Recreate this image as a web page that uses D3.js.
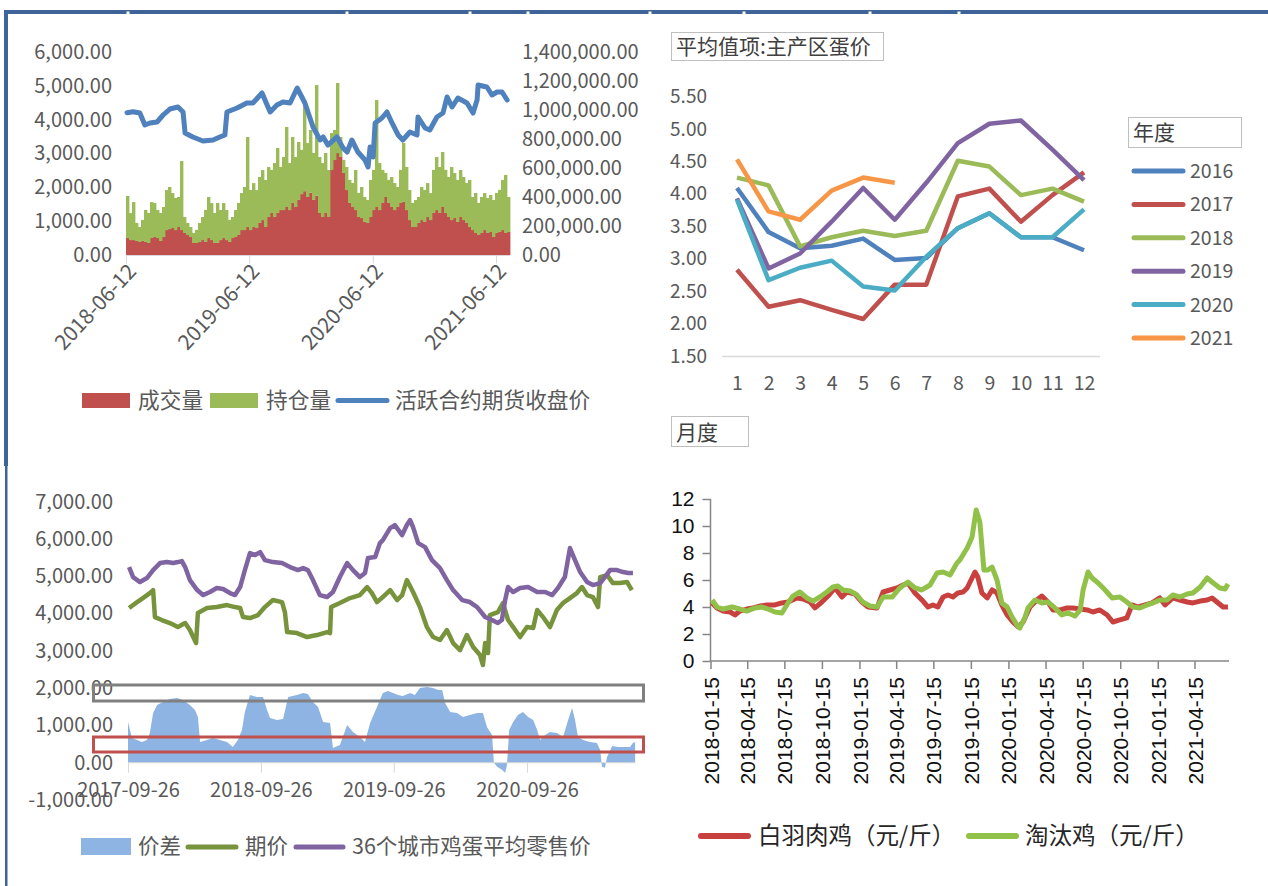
<!DOCTYPE html>
<html><head><meta charset="utf-8">
<script src="https://cdn.jsdelivr.net/npm/d3@7"></script>
<style>
html,body{margin:0;padding:0;background:#fff;}
svg{display:block;}
text{font-family:"Noto Sans CJK SC","Noto Sans",sans-serif;}
</style></head><body>
<svg id="c" width="1268" height="886"></svg>
<script>
// ================= DATA =================
// Chart 1: 蛋期货 成交量 / 持仓量 (thousand lots) and active contract close
const volumeK = [117,103,103,97,90,97,90,83,117,124,117,97,124,172,179,186,172,193,172,152,138,124,83,83,90,103,90,117,103,83,83,103,117,103,90,117,124,138,172,172,193,172,193,186,221,241,193,262,290,262,290,310,310,331,310,359,331,380,420,440,400,430,380,410,290,262,290,262,586,655,703,676,566,448,359,331,310,262,255,228,221,262,310,331,310,359,400,359,331,310,331,359,366,310,241,193,193,221,241,228,262,241,290,310,290,331,290,262,241,255,228,262,241,221,193,172,152,138,152,172,152,159,124,152,159,172,152,159];
const openInterestK = [290,186,262,124,103,145,221,207,248,234,193,193,207,276,290,241,221,207,476,110,83,69,69,90,131,159,221,283,255,207,276,207,241,207,152,145,186,221,255,297,621,276,303,262,317,345,324,345,297,372,448,297,366,552,324,455,345,399,305,608,372,432,324,762,386,372,414,324,255,207,483,138,90,159,159,166,276,166,214,172,159,255,276,738,324,228,166,159,207,186,138,228,407,297,207,166,186,179,228,221,234,186,297,366,317,379,297,276,366,310,290,324,297,276,324,228,276,221,248,255,241,255,255,276,290,345,400,241];
const closePrice = [['2018-06-15',4206],['2018-07-03',4236],['2018-07-23',4197],['2018-08-07',3842],['2018-08-22',3901],['2018-09-12',3931],['2018-09-30',4138],['2018-10-20',4315],['2018-11-13',4374],['2018-11-28',4227],['2018-12-04',3606],['2018-12-27',3488],['2019-01-26',3370],['2019-02-25',3399],['2019-03-17',3488],['2019-04-01',3547],['2019-04-07',4227],['2019-05-07',4345],['2019-06-05',4493],['2019-06-23',4493],['2019-07-20',4788],['2019-08-04',4434],['2019-08-13',4227],['2019-09-02',4434],['2019-09-20',4522],['2019-10-11',4493],['2019-11-01',4936],['2019-11-24',4493],['2019-12-18',3783],['2020-01-08',3399],['2020-01-17',3488],['2020-01-31',3251],['2020-02-27',3488],['2020-03-16',3163],['2020-03-28',3044],['2020-04-11',3399],['2020-04-29',3044],['2020-05-20',2808],['2020-05-29',2601],['2020-06-04',3192],['2020-06-13',2897],['2020-06-19',3902],['2020-07-09',4049],['2020-07-24',4227],['2020-08-08',3902],['2020-08-26',3547],['2020-09-09',3399],['2020-09-30',3636],['2020-10-21',3547],['2020-10-24',4079],['2020-11-14',3754],['2020-11-28',3695],['2020-12-19',4079],['2021-01-06',4197],['2021-01-18',4670],['2021-02-02',4374],['2021-02-19',4640],['2021-03-18',4493],['2021-04-05',4197],['2021-04-17',4581],['2021-04-20',5025],['2021-05-16',4966],['2021-05-31',4729],['2021-06-15',4818],['2021-06-30',4818],['2021-07-15',4581]];
const ticks1 = ['2018-06-12','2019-06-12','2020-06-12','2021-06-12'];

// Chart 2: 平均值项:主产区蛋价 by month and year
const months = [1,2,3,4,5,6,7,8,9,10,11,12];
const years = ['2016','2017','2018','2019','2020','2021'];
const egg2016 = [4.09,3.41,3.16,3.20,3.31,2.98,3.01,3.47,3.70,3.33,3.33,3.13];
const egg2017 = [2.83,2.26,2.36,2.21,2.07,2.60,2.60,3.96,4.08,3.57,3.98,4.33];
const egg2018 = [4.25,4.13,3.19,3.33,3.43,3.35,3.43,4.51,4.42,3.98,4.08,3.88];
const egg2019 = [3.93,2.85,3.08,3.57,4.09,3.60,4.17,4.78,5.08,5.13,4.68,4.21];
const egg2020 = [3.91,2.67,2.86,2.97,2.57,2.51,3.03,3.47,3.70,3.33,3.33,3.76];
const egg2021 = [4.53,3.73,3.60,4.05,4.25,4.17];
const yTicks2 = [1.5,2,2.5,3,3.5,4,4.5,5,5.5];

// Chart 3: 价差 / 期价 / 36个城市鸡蛋平均零售价
const spread = [['2017-09-26',1091],['2017-10-07',662],['2017-10-21',608],['2017-11-03',555],['2017-11-17',608],['2017-11-25',796],['2017-12-04',1332],['2017-12-15',1547],['2017-12-31',1627],['2018-01-19',1708],['2018-02-08',1735],['2018-02-24',1681],['2018-03-15',1547],['2018-03-29',1413],['2018-04-06',1225],['2018-04-12',555],['2018-05-01',608],['2018-05-17',662],['2018-06-06',608],['2018-06-25',555],['2018-07-11',421],['2018-07-25',608],['2018-08-05',877],['2018-08-13',1359],['2018-08-27',1815],['2018-09-15',1761],['2018-10-02',1761],['2018-10-13',1413],['2018-10-21',1198],['2018-11-09',1145],['2018-11-26',1172],['2018-12-10',1761],['2019-01-03',1815],['2019-01-20',1869],['2019-02-02',1842],['2019-02-16',1627],['2019-03-02',1493],['2019-03-16',1091],['2019-04-04',1064],['2019-04-12',394],['2019-05-01',474],['2019-05-21',1011],['2019-06-06',823],['2019-06-25',689],['2019-07-09',555],['2019-07-23',1064],['2019-08-11',1493],['2019-08-27',1869],['2019-09-10',1922],['2019-09-24',1869],['2019-10-08',1815],['2019-10-21',1788],['2019-11-10',1869],['2019-11-23',1815],['2019-12-07',2003],['2019-12-26',2030],['2020-01-12',2003],['2020-01-26',1949],['2020-02-06',1949],['2020-02-14',1600],['2020-02-28',1359],['2020-03-18',1332],['2020-04-03',1225],['2020-04-22',1279],['2020-05-12',1332],['2020-05-28',1332],['2020-06-08',957],['2020-06-22',742],['2020-06-27',0],['2020-07-06',-107],['2020-07-19',-188],['2020-07-28',-268],['2020-08-02',-54],['2020-08-08',877],['2020-08-19',1091],['2020-09-01',1279],['2020-09-15',1359],['2020-09-29',1225],['2020-10-13',1145],['2020-10-24',877],['2020-11-01',608],['2020-11-15',742],['2020-11-28',823],['2020-12-17',796],['2021-01-03',689],['2021-01-17',1145],['2021-01-28',1466],['2021-02-05',1145],['2021-02-13',689],['2021-02-27',608],['2021-03-18',555],['2021-04-06',528],['2021-04-15',340],['2021-04-20',-107],['2021-04-28',-134],['2021-05-04',153],['2021-05-18',448],['2021-06-03',421],['2021-06-22',421],['2021-07-06',421],['2021-07-14',528],['2021-07-20',555]];
const futuresPrice = [['2017-09-29',4148],['2017-10-21',4308],['2017-11-06',4416],['2017-11-25',4550],['2017-12-04',4630],['2017-12-09',3906],['2017-12-28',3826],['2018-01-19',3746],['2018-02-10',3638],['2018-03-02',3746],['2018-03-15',3558],['2018-04-01',3209],['2018-04-06',4013],['2018-05-01',4148],['2018-05-28',4174],['2018-06-25',4228],['2018-07-17',4174],['2018-07-31',4148],['2018-08-08',3906],['2018-08-27',3880],['2018-09-18',3960],['2018-10-07',4174],['2018-10-29',4362],['2018-11-23',4308],['2018-12-01',4040],['2018-12-07',3504],['2019-01-03',3477],['2019-01-31',3370],['2019-02-27',3424],['2019-03-27',3504],['2019-04-04',3477],['2019-04-07',4174],['2019-05-01',4282],['2019-05-29',4416],['2019-06-25',4496],['2019-07-15',4711],['2019-07-28',4550],['2019-08-11',4308],['2019-08-27',4443],['2019-09-16',4630],['2019-10-05',4362],['2019-10-19',4496],['2019-11-01',4898],['2019-11-18',4577],['2019-12-07',4174],['2019-12-26',3638],['2020-01-12',3370],['2020-01-31',3290],['2020-02-19',3558],['2020-03-07',3209],['2020-03-26',3021],['2020-04-14',3424],['2020-05-01',3102],['2020-05-20',2887],['2020-05-28',2619],['2020-06-03',3209],['2020-06-11',2941],['2020-06-16',3960],['2020-07-08',4040],['2020-07-22',4282],['2020-08-05',3826],['2020-08-19',3638],['2020-09-07',3370],['2020-09-26',3638],['2020-10-13',3611],['2020-10-24',4094],['2020-11-09',3906],['2020-11-28',3638],['2020-12-17',4094],['2021-01-03',4282],['2021-01-22',4416],['2021-02-10',4550],['2021-02-24',4711],['2021-03-10',4496],['2021-03-26',4443],['2021-04-09',4174],['2021-04-15',4979],['2021-05-04',5032],['2021-05-20',4818],['2021-06-08',4818],['2021-06-28',4845],['2021-07-11',4630]];
const retailPrice = [['2017-09-29',5247],['2017-10-10',4979],['2017-10-29',4845],['2017-11-17',4952],['2017-12-04',5166],['2017-12-23',5354],['2018-01-11',5381],['2018-01-28',5354],['2018-02-10',5381],['2018-02-21',5408],['2018-03-02',5247],['2018-03-15',4898],['2018-04-04',4630],['2018-04-20',4496],['2018-05-09',4577],['2018-05-28',4684],['2018-06-14',4657],['2018-07-03',4550],['2018-07-17',4496],['2018-07-31',4711],['2018-08-13',5166],['2018-08-27',5622],['2018-09-10',5569],['2018-09-24',5649],['2018-10-07',5434],['2018-10-29',5381],['2018-11-23',5354],['2018-12-15',5247],['2019-01-06',5166],['2019-01-20',5220],['2019-02-02',5166],['2019-02-16',4898],['2019-03-07',4496],['2019-03-27',4443],['2019-04-12',4577],['2019-05-01',4979],['2019-05-21',5354],['2019-06-06',5166],['2019-06-25',4979],['2019-07-09',5086],['2019-07-17',5488],['2019-08-06',5515],['2019-08-19',5890],['2019-08-27',5971],['2019-09-16',6292],['2019-09-29',6373],['2019-10-19',6105],['2019-11-01',6373],['2019-11-10',6507],['2019-11-18',6319],['2019-12-02',5890],['2019-12-21',5783],['2020-01-09',5434],['2020-01-31',5220],['2020-02-19',4898],['2020-03-07',4630],['2020-04-01',4362],['2020-04-22',4309],['2020-05-12',4175],['2020-06-03',3907],['2020-06-22',3826],['2020-07-08',3746],['2020-07-19',3826],['2020-07-28',4362],['2020-08-05',4711],['2020-08-19',4577],['2020-09-07',4684],['2020-09-29',4711],['2020-10-24',4577],['2020-11-15',4577],['2020-12-04',4496],['2020-12-20',4684],['2021-01-08',4979],['2021-01-22',5756],['2021-01-30',5569],['2021-02-19',5113],['2021-03-10',4845],['2021-03-26',4764],['2021-04-15',4818],['2021-04-28',4979],['2021-05-12',5166],['2021-05-31',5166],['2021-06-17',5113],['2021-07-01',5086],['2021-07-14',5086]];
const ticks3 = ['2017-09-26','2018-09-26','2019-09-26','2020-09-26'];

// Chart 4: 白羽肉鸡 / 淘汰鸡 (元/斤)
const broiler = [['2018-01-19',4.30],['2018-01-31',3.93],['2018-02-15',3.70],['2018-03-04',3.63],['2018-03-16',3.41],['2018-03-28',3.70],['2018-04-14',3.85],['2018-04-29',3.93],['2018-05-16',4.07],['2018-06-02',4.15],['2018-06-22',4.15],['2018-07-09',4.30],['2018-07-24',4.37],['2018-08-15',4.67],['2018-08-30',4.59],['2018-09-16',4.37],['2018-09-28',3.93],['2018-10-15',4.37],['2018-10-30',4.81],['2018-11-16',5.41],['2018-12-03',4.74],['2018-12-15',5.11],['2019-01-04',4.96],['2019-01-21',4.37],['2019-02-05',4.00],['2019-02-27',3.93],['2019-03-14',5.11],['2019-03-31',5.26],['2019-04-17',5.41],['2019-05-02',5.63],['2019-05-14',5.78],['2019-05-31',5.04],['2019-06-17',4.52],['2019-07-02',4.00],['2019-07-14',4.15],['2019-07-26',4.00],['2019-08-08',4.74],['2019-08-20',4.89],['2019-09-01',4.74],['2019-09-13',5.04],['2019-09-26',5.11],['2019-10-06',5.41],['2019-10-13',5.85],['2019-10-25',6.59],['2019-11-01',6.22],['2019-11-11',5.04],['2019-11-24',4.67],['2019-12-06',5.26],['2019-12-18',5.04],['2019-12-30',4.15],['2020-01-12',3.41],['2020-01-26',2.89],['2020-02-08',2.52],['2020-02-20',2.89],['2020-03-08',4.00],['2020-03-25',4.52],['2020-04-06',4.81],['2020-04-21',4.37],['2020-05-03',3.78],['2020-05-20',3.78],['2020-06-07',3.93],['2020-06-21',3.93],['2020-07-09',3.85],['2020-07-26',3.78],['2020-08-09',3.63],['2020-08-26',3.78],['2020-09-13',3.41],['2020-09-27',2.89],['2020-10-14',3.04],['2020-10-31',3.19],['2020-11-13',4.15],['2020-11-28',4.00],['2020-12-15',4.15],['2021-01-01',4.30],['2021-01-20',4.67],['2021-02-02',4.15],['2021-02-21',4.67],['2021-03-10',4.52],['2021-03-28',4.37],['2021-04-11',4.30],['2021-04-29',4.44],['2021-05-16',4.52],['2021-05-28',4.67],['2021-06-09',4.37],['2021-06-24',4.00],['2021-07-06',4.00]];
const culledHen = [['2018-01-19',4.52],['2018-01-31',4.00],['2018-02-15',3.85],['2018-03-09',4.00],['2018-03-28',3.85],['2018-04-14',3.70],['2018-05-04',3.93],['2018-05-21',4.00],['2018-06-05',3.85],['2018-06-22',3.63],['2018-07-09',3.56],['2018-07-24',4.30],['2018-08-05',4.81],['2018-08-22',5.11],['2018-09-08',4.67],['2018-09-23',4.44],['2018-10-10',4.74],['2018-10-27',5.11],['2018-11-11',5.48],['2018-11-23',5.56],['2018-12-06',5.26],['2018-12-23',5.19],['2019-01-09',4.89],['2019-01-23',4.37],['2019-02-10',4.07],['2019-02-27',4.00],['2019-03-14',4.74],['2019-04-05',4.74],['2019-04-24',5.41],['2019-05-14',5.85],['2019-05-31',5.41],['2019-06-17',5.26],['2019-07-07',5.63],['2019-07-24',6.52],['2019-08-08',6.59],['2019-08-25',6.37],['2019-09-11',7.26],['2019-09-18',7.48],['2019-10-06',8.37],['2019-10-18',9.19],['2019-10-28',11.19],['2019-11-06',10.30],['2019-11-16',6.74],['2019-11-26',6.74],['2019-12-06',6.96],['2019-12-18',6.00],['2019-12-30',4.30],['2020-01-12',4.00],['2020-01-24',3.26],['2020-02-05',2.67],['2020-02-12',2.44],['2020-02-25',3.26],['2020-03-03',3.93],['2020-03-20',4.52],['2020-04-06',4.30],['2020-04-21',4.37],['2020-05-08',3.93],['2020-05-25',3.41],['2020-06-09',3.56],['2020-06-26',3.33],['2020-07-09',3.78],['2020-07-16',5.26],['2020-07-28',6.59],['2020-08-07',6.15],['2020-08-22',5.78],['2020-09-08',5.26],['2020-09-25',4.67],['2020-10-14',4.74],['2020-10-31',4.37],['2020-11-15',4.00],['2020-12-02',3.93],['2020-12-20',4.15],['2021-01-03',4.30],['2021-01-20',4.52],['2021-02-07',4.52],['2021-02-21',4.89],['2021-03-10',4.74],['2021-03-28',4.96],['2021-04-11',5.04],['2021-04-29',5.48],['2021-05-16',6.15],['2021-05-31',5.78],['2021-06-16',5.41],['2021-06-29',5.33],['2021-07-06',5.70]];
const ticks4 = ['2018-01-15','2018-04-15','2018-07-15','2018-10-15','2019-01-15','2019-04-15','2019-07-15','2019-10-15','2020-01-15','2020-04-15','2020-07-15','2020-10-15','2021-01-15','2021-04-15'];
const yTicks4 = [0,2,4,6,8,10,12];

// ================= DRAWING =================
const svg = d3.select('#c');
const parse = d3.timeParse('%Y-%m-%d');
const loc = d3.formatLocale({decimal:'.', thousands:',', grouping:[3], currency:['',''], minus:'-'});
const fmt2 = loc.format(',.2f');
const GRAY = '#595959';
const C = {red:'#C0504D', green:'#9BBB59', blue:'#4F81BD', purple:'#8064A2', cyan:'#4BACC6', orange:'#F79646', olive:'#77933C', lightBlue:'#8DB4E2'};

function styleAxis(g, color, size) {
  g.select('.domain').remove();
  g.selectAll('.tick line').attr('stroke', color);
  g.selectAll('.tick text').attr('fill', size.fill).style('font-size', size.fs + 'px').style('font-family', size.ff || null);
}

// frame
const FRAME = '#3e6499';
svg.append('rect').attr('x', 4).attr('y', 10).attr('width', 1264).attr('height', 4).attr('fill', FRAME);
svg.append('rect').attr('x', 4).attr('y', 10).attr('width', 4).attr('height', 456).attr('fill', FRAME);
svg.append('rect').attr('x', 5).attr('y', 466).attr('width', 2.5).attr('height', 420).attr('fill', FRAME);
[128, 347, 470, 528, 650, 744, 870, 959].forEach(x => svg.append('rect').attr('x', x - 1.5).attr('y', 11.5).attr('width', 3).attr('height', 2.5).attr('fill', '#fff'));

// ---------- Chart 1 ----------
{
  const g = svg.append('g');
  const x = d3.scaleTime().domain([parse('2018-06-12'), parse('2021-06-12')]).range([126, 496]);
  const xb = d3.scaleBand().domain(d3.range(volumeK.length)).range([126, 510]).padding(0);
  const yL = d3.scaleLinear().domain([0, 6000]).range([255, 52]);
  const yR = d3.scaleLinear().domain([0, 1400000]).range([255, 52]);
  const rows = volumeK.map((v, i) => ({i, vol: v * 1000, oi: openInterestK[i] * 1000}));
  const layers = d3.stack().keys(['vol', 'oi'])(rows);
  const fills = {vol: C.red, oi: C.green};
  g.selectAll('g.layer').data(layers).join('g').attr('class', 'layer').attr('fill', d => fills[d.key])
    .selectAll('rect').data(d => d).join('rect')
    .attr('x', d => xb(d.data.i)).attr('width', xb.bandwidth() + 0.4)
    .attr('y', d => yR(d[1])).attr('height', d => yR(d[0]) - yR(d[1]));
  g.append('line').attr('x1', 126).attr('x2', 510).attr('y1', 255.5).attr('y2', 255.5).attr('stroke', '#d9d9d9');
  const ax = g.append('g').attr('transform', 'translate(0,255.5)')
    .call(d3.axisBottom(x).tickValues(ticks1.map(parse)).tickSize(8).tickFormat(d3.timeFormat('%Y-%m-%d')));
  styleAxis(ax, '#d9d9d9', {fill: GRAY, fs: 21});
  ax.selectAll('.tick text').attr('text-anchor', 'end').attr('y', 0).attr('dy', 0)
    .attr('transform', 'translate(11,17) rotate(-47)');
  const al = g.append('g').attr('transform', 'translate(112,0)')
    .call(d3.axisLeft(yL).tickValues(d3.range(0, 6001, 1000)).tickSize(0).tickPadding(0).tickFormat(fmt2));
  styleAxis(al, 'none', {fill: GRAY, fs: 20});
  const ar = g.append('g').attr('transform', 'translate(522,0)')
    .call(d3.axisRight(yR).tickValues(d3.range(0, 1400001, 200000)).tickSize(0).tickPadding(0).tickFormat(fmt2));
  styleAxis(ar, 'none', {fill: GRAY, fs: 20});
  g.append('path').datum(closePrice).attr('fill', 'none').attr('stroke', C.blue).attr('stroke-width', 5)
    .attr('stroke-linejoin', 'round').attr('stroke-linecap', 'round')
    .attr('d', d3.line().x(d => x(parse(d[0]))).y(d => yL(d[1])));
  // legend
  const lg = g.append('g').style('font-size', '21.7px').attr('fill', GRAY);
  lg.append('rect').attr('x', 82).attr('y', 393).attr('width', 48).attr('height', 15).attr('fill', C.red);
  lg.append('text').attr('x', 138).attr('y', 400).attr('dy', '0.36em').text('成交量');
  lg.append('rect').attr('x', 210).attr('y', 393).attr('width', 48).attr('height', 15).attr('fill', C.green);
  lg.append('text').attr('x', 266).attr('y', 400).attr('dy', '0.36em').text('持仓量');
  lg.append('line').attr('x1', 338).attr('x2', 387).attr('y1', 400.5).attr('y2', 400.5).attr('stroke', C.blue).attr('stroke-width', 5).attr('stroke-linecap', 'round');
  lg.append('text').attr('x', 395).attr('y', 400).attr('dy', '0.36em').text('活跃合约期货收盘价');
}

// ---------- Chart 2 ----------
{
  const g = svg.append('g');
  const x = d3.scalePoint().domain(months).range([737, 1084]);
  const y = d3.scaleLinear().domain([1.5, 5.5]).range([356, 96.5]);
  g.append('rect').attr('x', 671.5).attr('y', 32.5).attr('width', 212).attr('height', 28).attr('fill', '#fff').attr('stroke', '#bfbfbf');
  g.append('text').attr('x', 676).attr('y', 46.5).attr('dy', '0.36em').style('font-size', '21px').attr('fill', '#404040').text('平均值项:主产区蛋价');
  g.append('line').attr('x1', 722).attr('x2', 1100).attr('y1', 356.5).attr('y2', 356.5).attr('stroke', '#d9d9d9').attr('stroke-width', 1.5);
  const al = g.append('g').attr('transform', 'translate(707,0)')
    .call(d3.axisLeft(y).tickValues(yTicks2).tickSize(0).tickPadding(0).tickFormat(d3.format('.2f')));
  styleAxis(al, 'none', {fill: GRAY, fs: 19});
  const ab = g.append('g').attr('transform', 'translate(0,375)')
    .call(d3.axisBottom(x).tickSize(0).tickPadding(0));
  styleAxis(ab, 'none', {fill: GRAY, fs: 19.5});
  ab.selectAll('.tick text').attr('dy', '0.75em');
  const series = [egg2016, egg2017, egg2018, egg2019, egg2020, egg2021];
  const colors = [C.blue, C.red, C.green, C.purple, C.cyan, C.orange];
  const line = d3.line().x((d, i) => x(months[i])).y(d => y(d));
  series.forEach((s, k) => {
    g.append('path').datum(s).attr('fill', 'none').attr('stroke', colors[k]).attr('stroke-width', 4.5)
      .attr('stroke-linejoin', 'round').attr('d', line);
  });
  // legend
  g.append('rect').attr('x', 1128.5).attr('y', 117.5).attr('width', 113).attr('height', 30).attr('fill', '#fff').attr('stroke', '#bfbfbf');
  g.append('text').attr('x', 1133).attr('y', 132).attr('dy', '0.36em').style('font-size', '21px').attr('fill', '#404040').text('年度');
  const ly = d3.scalePoint().domain(years).range([171, 338]);
  years.forEach((yr, k) => {
    g.append('line').attr('x1', 1134).attr('x2', 1183).attr('y1', ly(yr)).attr('y2', ly(yr)).attr('stroke', colors[k]).attr('stroke-width', 5).attr('stroke-linecap', 'round');
    g.append('text').attr('x', 1190).attr('y', ly(yr)).attr('dy', '0.36em').style('font-size', '19.5px').attr('fill', GRAY).text(yr);
  });
}

// ---------- Chart 3 ----------
{
  const g = svg.append('g');
  const x = d3.scaleTime().domain([parse('2017-09-26'), parse('2020-09-26')]).range([128, 527]);
  const y = d3.scaleLinear().domain([-1000, 7000]).range([800, 501.7]);
  g.append('path').datum(spread).attr('fill', C.lightBlue)
    .attr('d', d3.area().x(d => x(parse(d[0]))).y0(y(0)).y1(d => y(d[1])));
  g.append('line').attr('x1', 128).attr('x2', 636).attr('y1', y(0)).attr('y2', y(0)).attr('stroke', '#d9d9d9');
  const ab = g.append('g').attr('transform', `translate(0,${y(0)})`)
    .call(d3.axisBottom(x).tickValues(ticks3.map(parse)).tickSize(10).tickPadding(10).tickFormat(d3.timeFormat('%Y-%m-%d')));
  styleAxis(ab, '#d9d9d9', {fill: GRAY, fs: 20});
  ab.selectAll('.tick text').attr('dy', '0.71em');
  const al = g.append('g').attr('transform', 'translate(113,0)')
    .call(d3.axisLeft(y).tickValues(d3.range(-1000, 7001, 1000)).tickSize(0).tickPadding(0).tickFormat(fmt2));
  styleAxis(al, 'none', {fill: GRAY, fs: 20});
  const ln = d3.line().x(d => x(parse(d[0]))).y(d => y(d[1]));
  g.append('path').datum(futuresPrice).attr('fill', 'none').attr('stroke', C.olive).attr('stroke-width', 4.5).attr('stroke-linejoin', 'round').attr('d', ln);
  g.append('path').datum(retailPrice).attr('fill', 'none').attr('stroke', C.purple).attr('stroke-width', 4.5).attr('stroke-linejoin', 'round').attr('d', ln);
  // highlight boxes
  g.append('rect').attr('x', 93.5).attr('y', 685).attr('width', 550).attr('height', 16).attr('fill', 'none').attr('stroke', '#808080').attr('stroke-width', 3);
  g.append('rect').attr('x', 93.5).attr('y', 737).attr('width', 550).attr('height', 15).attr('fill', 'none').attr('stroke', '#C0504D').attr('stroke-width', 3);
  // legend
  const lg = g.append('g').style('font-size', '21.5px').attr('fill', GRAY);
  lg.append('rect').attr('x', 81).attr('y', 838).attr('width', 50).attr('height', 17).attr('fill', C.lightBlue);
  lg.append('text').attr('x', 138).attr('y', 846.5).attr('dy', '0.36em').text('价差');
  lg.append('line').attr('x1', 188).attr('x2', 236).attr('y1', 847).attr('y2', 847).attr('stroke', C.olive).attr('stroke-width', 5).attr('stroke-linecap', 'round');
  lg.append('text').attr('x', 245).attr('y', 846.5).attr('dy', '0.36em').text('期价');
  lg.append('line').attr('x1', 296).attr('x2', 343).attr('y1', 847).attr('y2', 847).attr('stroke', C.purple).attr('stroke-width', 5).attr('stroke-linecap', 'round');
  lg.append('text').attr('x', 352).attr('y', 846.5).attr('dy', '0.36em').text('36个城市鸡蛋平均零售价');
}

// ---------- Chart 4 ----------
{
  const g = svg.append('g');
  const x = d3.scaleTime().domain([parse('2018-01-15'), parse('2021-04-15')]).range([710.5, 1194.5]);
  const y = d3.scaleLinear().domain([0, 12]).range([661, 499]);
  g.append('rect').attr('x', 671.5).attr('y', 416.5).attr('width', 77).attr('height', 30).attr('fill', '#fff').attr('stroke', '#bfbfbf');
  g.append('text').attr('x', 676).attr('y', 432).attr('dy', '0.36em').style('font-size', '21px').attr('fill', '#404040').text('月度');
  const AX = '#868686';
  g.append('line').attr('x1', 710.5).attr('x2', 710.5).attr('y1', 499).attr('y2', 661).attr('stroke', AX).attr('stroke-width', 1.5);
  g.append('line').attr('x1', 710.5).attr('x2', 1229).attr('y1', 661).attr('y2', 661).attr('stroke', AX).attr('stroke-width', 1.5);
  const al = g.append('g').attr('transform', 'translate(710.5,0)')
    .call(d3.axisLeft(y).tickValues(yTicks4).tickSize(8).tickPadding(8));
  styleAxis(al, AX, {fill: '#111', fs: 21, ff: '"Liberation Sans", Arial, sans-serif'});
  al.selectAll('.tick line').attr('stroke-width', 1.5);
  const ab = g.append('g').attr('transform', 'translate(0,661)')
    .call(d3.axisBottom(x).tickValues(ticks4.map(parse)).tickSize(8).tickFormat(d3.timeFormat('%Y-%m-%d')));
  styleAxis(ab, AX, {fill: '#111', fs: 21, ff: '"Liberation Sans", Arial, sans-serif'});
  ab.selectAll('.tick line').attr('stroke-width', 1.5);
  ab.selectAll('.tick text').attr('text-anchor', 'end').attr('y', 0).attr('dy', '0.36em')
    .attr('transform', 'translate(0,16) rotate(-90)');
  const ln = d3.line().x(d => x(parse(d[0]))).y(d => y(d[1]));
  g.append('path').datum(broiler).attr('fill', 'none').attr('stroke', '#C9413F').attr('stroke-width', 5).attr('stroke-linejoin', 'round').attr('d', ln);
  g.append('path').datum(culledHen).attr('fill', 'none').attr('stroke', '#92C14A').attr('stroke-width', 5).attr('stroke-linejoin', 'round').attr('d', ln);
  const lg = g.append('g').style('font-size', '23.5px').attr('fill', '#262626');
  lg.append('line').attr('x1', 701).attr('x2', 748).attr('y1', 836).attr('y2', 836).attr('stroke', '#C9413F').attr('stroke-width', 6).attr('stroke-linecap', 'round');
  lg.append('text').attr('x', 758).attr('y', 836).attr('dy', '0.36em').text('白羽肉鸡（元/斤）');
  lg.append('line').attr('x1', 969).attr('x2', 1016).attr('y1', 836).attr('y2', 836).attr('stroke', '#92C14A').attr('stroke-width', 6).attr('stroke-linecap', 'round');
  lg.append('text').attr('x', 1025).attr('y', 836).attr('dy', '0.36em').text('淘汰鸡（元/斤）');
}
</script>
</body></html>
